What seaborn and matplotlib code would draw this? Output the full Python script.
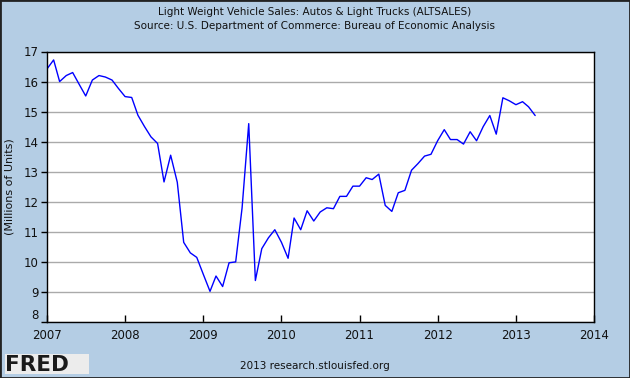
import pandas as pd
import seaborn as sns
import matplotlib.pyplot as plt
import matplotlib.dates as mdates
from matplotlib.patches import Rectangle

# Monthly light weight vehicle sales, Jan 2007 - Apr 2013 (millions of units, SAAR)
start_month = '2007-01-01'
sales_2007 = [16.42, 16.72, 16.00, 16.20, 16.30, 15.90, 15.52, 16.05, 16.20, 16.15, 16.05, 15.77]
sales_2008 = [15.50, 15.47, 14.88, 14.50, 14.16, 13.94, 12.66, 13.55, 12.65, 10.65, 10.30, 10.15]
sales_2009 = [9.58, 9.02, 9.53, 9.18, 9.97, 10.00, 11.80, 14.60, 9.38, 10.44, 10.80, 11.07]
sales_2010 = [10.65, 10.12, 11.46, 11.07, 11.70, 11.36, 11.66, 11.80, 11.77, 12.18, 12.18, 12.52]
sales_2011 = [12.52, 12.80, 12.74, 12.92, 11.88, 11.68, 12.30, 12.38, 13.05, 13.27, 13.52, 13.58]
sales_2012 = [14.03, 14.40, 14.07, 14.07, 13.92, 14.33, 14.03, 14.50, 14.87, 14.25, 15.46, 15.36]
sales_2013 = [15.23, 15.33, 15.16, 14.87]

values = sales_2007 + sales_2008 + sales_2009 + sales_2010 + sales_2011 + sales_2012 + sales_2013
df = pd.DataFrame({
    'Date': pd.date_range(start_month, periods=len(values), freq='MS'),
    'Sales': values,
})

year_ticks = list(range(2007, 2015))
y_ticks = list(range(8, 18))

bg = '#b4cde4'

sns.set_style("ticks")
plt.rcParams['font.family'] = ['DejaVu Sans']

fig = plt.figure(figsize=(6.3, 3.78), dpi=100)
fig.set_facecolor(bg)
ax = fig.add_axes([47 / 630, 1 - 322 / 378, (594 - 47) / 630, (322 - 51.5) / 378])
ax.set_facecolor('white')

sns.lineplot(data=df, x='Date', y='Sales', ax=ax, color='#0000ff', linewidth=1.0)

ax.set_xlim(pd.Timestamp('2007-01-01'), pd.Timestamp('2014-01-01'))
ax.set_ylim(8, 17)
ax.set_yticks(y_ticks)
ax.set_xticks([pd.Timestamp(f'{y}-01-01') for y in year_ticks])
ax.xaxis.set_major_formatter(mdates.DateFormatter('%Y'))

ax.grid(axis='y', color='#aaaaaa', linewidth=1.0)
ax.grid(axis='x', visible=False)
ax.set_axisbelow(True)

for s in ax.spines.values():
    s.set_color('black')
    s.set_linewidth(1.0)

ax.tick_params(axis='y', direction='out', length=4, width=1, color='black',
               labelsize=8.5, pad=2, labelcolor='#111111')
ax.tick_params(axis='x', direction='in', length=5, width=1, color='black',
               labelsize=8.5, pad=5, labelcolor='#111111')

# the "8" label sits just above the first year label, as in the original
ax.get_yticklabels()[0].set_va('bottom')

ax.set_xlabel('')
ax.set_ylabel('(Millions of Units)', fontsize=8, color='#111111')
ax.yaxis.set_label_coords((15 - 47) / 547, 0.5)

# Titles and footer
fig.text(0.5, 1 - 12 / 378, 'Light Weight Vehicle Sales: Autos & Light Trucks (ALTSALES)',
         ha='center', va='center', fontsize=7.5, color='#111111')
fig.text(0.5, 1 - 26 / 378, 'Source: U.S. Department of Commerce: Bureau of Economic Analysis',
         ha='center', va='center', fontsize=7.5, color='#111111')
fig.text(0.5, 1 - 366 / 378, '2013 research.stlouisfed.org',
         ha='center', va='center', fontsize=7.5, color='#111111')

# FRED logo
fig.patches.append(Rectangle((5 / 630, 1 - 374 / 378), 84 / 630, 20 / 378,
                             transform=fig.transFigure, facecolor='#ececec',
                             edgecolor='none', zorder=1))
fig.text(5 / 630, 1 - 365 / 378, 'FRED', ha='left', va='center', fontsize=15.5,
         fontweight='heavy', color='#1a1a1a', zorder=2)

# Outer border
fig.patches.append(Rectangle((0, 0), 1, 1, transform=fig.transFigure, fill=False,
                             edgecolor='#222222', linewidth=2, zorder=5))

fig.savefig('out.png', dpi=100, facecolor=bg)
